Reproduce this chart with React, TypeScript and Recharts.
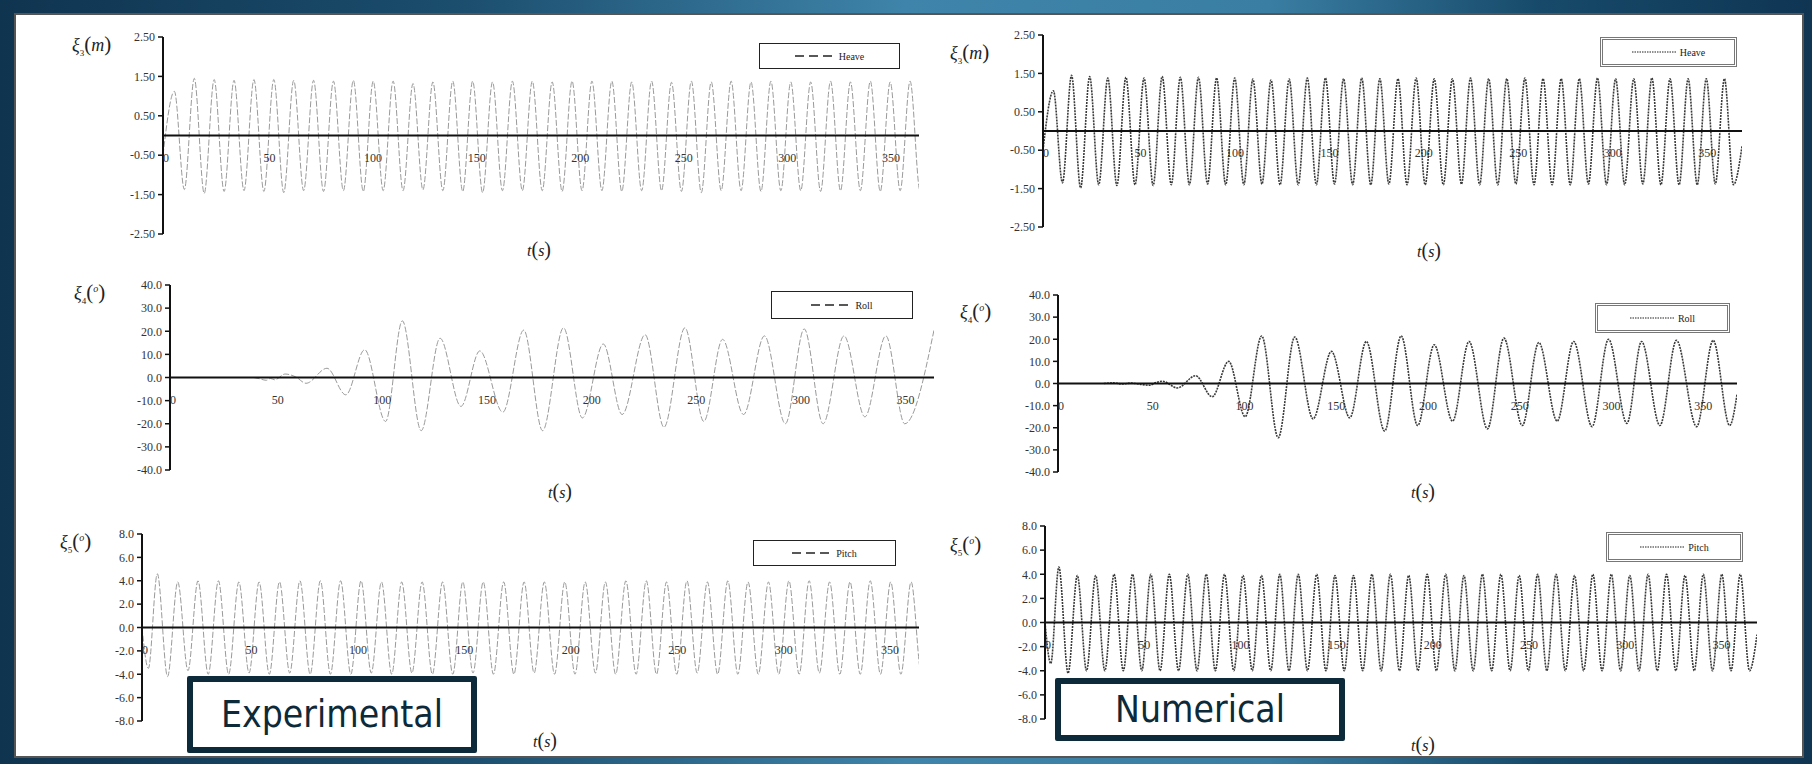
import { Line, LineChart, ReferenceLine, XAxis, YAxis } from "recharts";

// time of each turning point (s), shared by experimental and numerical runs
const heaveTime = [
  0, 5.5, 10.3, 15.1, 19.9, 24.7, 29.5, 34.3, 39.1, 43.9, 48.7, 53.5, 58.3, 63.1, 67.9, 72.7, 77.5,
  82.3, 87.1, 91.9, 96.7, 101.5, 106.3, 111.1, 115.9, 120.7, 125.5, 130.3, 135.1, 139.9, 144.7,
  149.5, 154.3, 159.1, 163.9, 168.7, 173.5, 178.3, 183.1, 187.9, 192.7, 197.5, 202.3, 207.1, 211.9,
  216.7, 221.5, 226.3, 231.1, 235.9, 240.7, 245.5, 250.3, 255.1, 259.9, 264.7, 269.5, 274.3, 279.1,
  283.9, 288.7, 293.5, 298.3, 303.1, 307.9, 312.7, 317.5, 322.3, 327.1, 331.9, 336.7, 341.5, 346.3,
  351.1, 355.9, 360.7, 365.5, 370,
];
const heaveExp = [
  -0.5,
  1.12, -1.37, 1.45, -1.47, 1.42, -1.42, 1.4, -1.4, 1.42, -1.42, 1.42, -1.45, 1.4, -1.4, 1.4, -1.42,
  1.38, -1.4, 1.4, -1.42, 1.38, -1.4, 1.38, -1.4, 1.32, -1.38, 1.36, -1.4, 1.38, -1.42, 1.38, -1.45,
  1.36, -1.4, 1.38, -1.4, 1.38, -1.4, 1.36, -1.42, 1.38, -1.4, 1.38, -1.4, 1.38, -1.42, 1.36, -1.4,
  1.38, -1.4, 1.35, -1.42, 1.38, -1.45, 1.36, -1.4, 1.38, -1.4, 1.36, -1.42, 1.38, -1.4, 1.36, -1.4,
  1.36, -1.42, 1.38, -1.4, 1.36, -1.4, 1.38, -1.42, 1.36, -1.4, 1.38, -1.4,
  -0.3,
];
const heaveNum = [
  -0.5,
  1.05, -1.35, 1.45, -1.48, 1.42, -1.4, 1.38, -1.42, 1.4, -1.4, 1.38, -1.42, 1.42, -1.4, 1.4, -1.4,
  1.4, -1.38, 1.38, -1.4, 1.38, -1.4, 1.35, -1.38, 1.33, -1.4, 1.35, -1.4, 1.38, -1.4, 1.38, -1.38,
  1.36, -1.4, 1.38, -1.4, 1.36, -1.38, 1.36, -1.4, 1.38, -1.4, 1.36, -1.4, 1.36, -1.38, 1.38, -1.4,
  1.36, -1.4, 1.36, -1.38, 1.38, -1.4, 1.36, -1.4, 1.36, -1.4, 1.36, -1.38, 1.38, -1.4, 1.36, -1.4,
  1.36, -1.38, 1.38, -1.4, 1.36, -1.4, 1.36, -1.4, 1.36, -1.38, 1.36, -1.4,
  -0.4,
];

const pitchTime = [
  0, 3.0, 7.2, 12.0, 16.8, 21.6, 26.3, 31.1, 35.9, 40.7, 45.5, 50.3, 55.0, 59.8, 64.6, 69.4, 74.2,
  79.0, 83.8, 88.5, 93.3, 98.1, 102.9, 107.7, 112.5, 117.3, 122.0, 126.8, 131.6, 136.4, 141.2, 146.0,
  150.7, 155.5, 160.3, 165.1, 169.9, 174.7, 179.5, 184.2, 189.0, 193.8, 198.6, 203.4, 208.2, 213.0,
  217.7, 222.5, 227.3, 232.1, 236.9, 241.7, 246.4, 251.2, 256.0, 260.8, 265.6, 270.4, 275.2, 279.9,
  284.7, 289.5, 294.3, 299.1, 303.9, 308.7, 313.4, 318.2, 323.0, 327.8, 332.6, 337.4, 342.1, 346.9,
  351.7, 356.5, 361.3, 366.1, 370,
];
const pitchExp = [
  0, -3.5,
  4.6, -4.2, 3.9, -3.7, 4.0, -4.0, 4.0, -4.0, 3.9, -3.9, 3.9, -4.0, 3.9, -3.9, 4.0, -4.0,
  4.0, -4.0, 4.0, -4.0, 4.0, -3.9, 3.9, -4.0, 3.9, -3.9, 3.9, -4.0, 3.9, -4.0, 3.9, -3.9,
  3.9, -4.0, 3.9, -4.0, 3.9, -3.9, 3.9, -4.0, 3.9, -4.0, 3.9, -3.9, 3.9, -4.0, 4.0, -4.0,
  4.0, -4.0, 3.9, -4.0, 4.0, -3.9, 3.9, -4.0, 4.0, -4.0, 3.9, -4.0, 3.9, -4.0, 4.0, -4.0,
  4.0, -3.9, 3.9, -4.0, 3.9, -4.0, 4.0, -4.0, 3.9, -4.0, 3.9, -3.9,
  0.5,
];
const pitchNum = [
  0, -3.4,
  4.6, -4.2, 3.9, -4.0, 3.9, -4.0, 4.0, -4.0, 4.0, -4.0, 4.0, -4.0, 4.0, -4.0, 4.0, -4.0,
  4.0, -4.0, 4.0, -4.0, 3.9, -4.0, 3.9, -4.0, 4.0, -4.0, 4.0, -4.0, 4.0, -4.0, 3.9, -4.0,
  3.9, -4.0, 4.0, -4.0, 4.0, -4.0, 3.9, -4.0, 4.0, -4.0, 4.0, -4.0, 3.9, -4.0, 4.0, -4.0,
  4.0, -4.0, 3.9, -4.0, 4.0, -4.0, 4.0, -4.0, 3.9, -4.0, 4.0, -4.0, 4.0, -4.0, 3.9, -4.0,
  4.0, -4.0, 4.0, -4.0, 3.9, -4.0, 4.0, -4.0, 4.0, -4.0, 4.0, -4.0,
  -1.0,
];

// roll has its own turning points: [t, deg]
const rollExp = [
  [40, 0], [43, -0.6], [46, -1.2], [48, -0.4], [50, -1.0], [55, 1.5], [60, 0.3], [65, -2.5],
  [75, 4.0], [84, -7.5], [93, 12.0], [103, -19.0], [111, 24.5], [120, -23.0], [129, 17.0],
  [139, -12.5], [148, 11.5], [159, -15.0], [169, 20.5], [178, -23.0], [188, 21.5], [197, -17.5],
  [207, 14.5], [216, -16.0], [227, 18.5], [236, -21.5], [246, 21.5], [255, -19.0], [264, 16.5],
  [274, -16.0], [284, 18.0], [294, -20.0], [303, 21.0], [312, -20.0], [322, 18.0], [332, -17.0],
  [342, 18.0], [351, -20.0], [365, 20.5],
];
const rollNum = [
  [25, 0], [30, 0.3], [35, -0.2], [40, 0.2], [45, -0.4], [50, -0.8], [53, 0.3], [57, 1.0],
  [65, -2.0], [75, 3.5], [84, -6.0], [93, 10.0], [102, -15.0], [111, 21.5], [120, -24.5],
  [129, 21.0], [139, -16.0], [149, 14.5], [159, -15.5], [168, 19.0], [178, -21.5], [187, 21.5],
  [196, -19.0], [205, 17.5], [215, -17.0], [224, 19.0], [234, -20.5], [243, 20.5], [253, -19.0],
  [262, 18.5], [272, -17.0], [281, 19.0], [291, -19.5], [300, 20.0], [310, -18.0], [318, 19.0],
  [328, -19.0], [337, 19.5], [348, -19.5], [357, 19.5], [366, -19.0], [370, -5.0],
];

const timeTicks = [0, 50, 100, 150, 200, 250, 300, 350];
const heaveTicks = [2.5, 1.5, 0.5, -0.5, -1.5, -2.5];
const rollTicks = [40, 30, 20, 10, 0, -10, -20, -30, -40];
const pitchTicks = [8, 6, 4, 2, 0, -2, -4, -6, -8];

const zip = (ts: number[], vs: number[]) => ts.map((t, i) => ({ t, v: vs[i] }));
const fromPairs = (ps: number[][]) => ps.map(([t, v]) => ({ t, v }));

const SERIF = '"Liberation Serif", "Times New Roman", serif';

type Box = { x0: number; x1: number; y0: number; y1: number };

function Panel({
  data, box, xMax, yMax, yTicks, digits, numerical,
}: {
  data: { t: number; v: number }[];
  box: Box;
  xMax: number;
  yMax: number;
  yTicks: number[];
  digits: number;
  numerical: boolean;
}) {
  const padL = 70, padT = 8, padR = 8, axisH = 40;
  const plotW = box.x1 - box.x0;
  const plotH = box.y1 - box.y0;
  const zeroY = padT + plotH / 2;
  const renderTick = (p: any) => (
    <text x={p.x + 3} y={zeroY + 26} textAnchor="middle" fontSize={12} fontFamily={SERIF} fill="#333">
      {p.payload.value}
    </text>
  );
  return (
    <div style={{ position: "absolute", left: box.x0 - padL, top: box.y0 - padT }}>
      <LineChart
        width={plotW + padL + padR}
        height={plotH + padT + axisH}
        data={data}
        margin={{ top: padT, right: padR, left: 0, bottom: 0 }}
      >
        <XAxis
          dataKey="t"
          type="number"
          domain={[0, xMax]}
          ticks={timeTicks}
          interval={0}
          allowDataOverflow
          axisLine={false}
          tickLine={false}
          height={axisH}
          tick={renderTick}
        />
        <YAxis
          type="number"
          domain={[-yMax, yMax]}
          ticks={yTicks}
          interval={0}
          allowDataOverflow
          width={padL}
          axisLine={{ stroke: "#111", strokeWidth: 2 }}
          tickLine={{ stroke: "#111", strokeWidth: 1.5 }}
          tickSize={5}
          tickMargin={3}
          tick={{ fontSize: 12, fill: "#333", fontFamily: SERIF }}
          tickFormatter={(v: number) => v.toFixed(digits)}
        />
        <Line
          dataKey="v"
          type="monotone"
          dot={false}
          isAnimationActive={false}
          stroke={numerical ? "#3a3a3a" : "#9a9a9a"}
          strokeWidth={numerical ? 1.6 : 1}
          strokeDasharray={numerical ? "2 1" : "6 2"}
        />
        <ReferenceLine y={0} stroke="#111" strokeWidth={2} />
      </LineChart>
    </div>
  );
}

function LegendBox({ x, y, w, h, name, numerical }: any) {
  return (
    <div
      style={{
        position: "absolute", left: x, top: y, width: w, height: h, boxSizing: "border-box",
        background: "#fff",
        border: numerical ? "3px double #777" : "1.5px solid #222",
        display: "flex", alignItems: "center", justifyContent: "center", gap: 4,
        fontFamily: SERIF, fontSize: 10, color: "#222",
      }}
    >
      <svg width={numerical ? 44 : 40} height={4}>
        <line x1={0} y1={2} x2={numerical ? 44 : 40} y2={2} stroke="#222"
          strokeWidth={numerical ? 1.2 : 1.6} strokeDasharray={numerical ? "1.5 1" : "9 5"} />
      </svg>
      <span>{name}</span>
    </div>
  );
}

function YLabel({ x, y, sub, unit }: { x: number; y: number; sub: string; unit: "m" | "deg" }) {
  return (
    <div style={{ position: "absolute", left: x, top: y, fontFamily: SERIF, fontSize: 18, color: "#222", whiteSpace: "nowrap", lineHeight: 1 }}>
      <i>ξ</i>
      <sub style={{ fontSize: 9 }}>{sub}</sub>
      <span style={{ fontSize: 21 }}>(</span>
      {unit === "m" ? <i>m</i> : <sup style={{ fontSize: 10, fontStyle: "italic" }}>o</sup>}
      <span style={{ fontSize: 21 }}>)</span>
    </div>
  );
}

function TLabel({ x, y }: { x: number; y: number }) {
  return (
    <div style={{ position: "absolute", left: x - 16, top: y - 11, fontFamily: SERIF, fontSize: 16, color: "#222", lineHeight: 1 }}>
      <i>t</i>
      <span style={{ fontSize: 20 }}>(</span>
      <i>s</i>
      <span style={{ fontSize: 20 }}>)</span>
    </div>
  );
}

function Tag({ x, y, w, h, text }: { x: number; y: number; w: number; h: number; text: string }) {
  return (
    <div
      style={{
        position: "absolute", left: x, top: y, width: w, height: h, boxSizing: "border-box",
        border: "6px solid #0c2a3a", borderRadius: 2, background: "#fff",
        display: "flex", alignItems: "center", justifyContent: "center",
        fontFamily: '"DejaVu Sans Condensed", "DejaVu Sans", sans-serif', fontStretch: "condensed",
        fontSize: 37, color: "#0c2a3a",
      }}
    >
      {text}
    </div>
  );
}

export default function App() {
  return (
    <div
      style={{
        position: "absolute", left: 0, top: 0, width: 1812, height: 764, overflow: "hidden",
        background: "linear-gradient(90deg, #0f3450 0%, #1b4d6d 25%, #3f84aa 50%, #3a7ea3 70%, #174a6a 85%, #0f3553 100%)",
      }}
    >
      <div style={{ position: "absolute", left: 14, top: 13, width: 1790, height: 745, boxSizing: "border-box", background: "#fff", border: "2px solid #555" }} />

      <Panel data={zip(heaveTime, heaveExp)} box={{ x0: 163, x1: 919, y0: 37, y1: 234 }} xMax={365} yMax={2.5} yTicks={heaveTicks} digits={2} numerical={false} />
      <Panel data={fromPairs(rollExp)} box={{ x0: 170, x1: 934, y0: 285, y1: 470 }} xMax={365} yMax={40} yTicks={rollTicks} digits={1} numerical={false} />
      <Panel data={zip(pitchTime, pitchExp)} box={{ x0: 142, x1: 919, y0: 534, y1: 721 }} xMax={365} yMax={8} yTicks={pitchTicks} digits={1} numerical={false} />
      <Panel data={zip(heaveTime, heaveNum)} box={{ x0: 1043, x1: 1742, y0: 35, y1: 227 }} xMax={370} yMax={2.5} yTicks={heaveTicks} digits={2} numerical />
      <Panel data={fromPairs(rollNum)} box={{ x0: 1058, x1: 1737, y0: 295, y1: 472 }} xMax={370} yMax={40} yTicks={rollTicks} digits={1} numerical />
      <Panel data={zip(pitchTime, pitchNum)} box={{ x0: 1045, x1: 1757, y0: 526, y1: 719 }} xMax={370} yMax={8} yTicks={pitchTicks} digits={1} numerical />

      <YLabel x={72} y={34} sub="3" unit="m" />
      <YLabel x={74} y={282} sub="4" unit="deg" />
      <YLabel x={60} y={531} sub="5" unit="deg" />
      <YLabel x={950} y={42} sub="3" unit="m" />
      <YLabel x={960} y={301} sub="4" unit="deg" />
      <YLabel x={950} y={534} sub="5" unit="deg" />

      <TLabel x={543} y={250} />
      <TLabel x={564} y={492} />
      <TLabel x={549} y={741} />
      <TLabel x={1433} y={251} />
      <TLabel x={1427} y={492} />
      <TLabel x={1427} y={745} />

      <LegendBox x={759} y={43} w={141} h={26} name="Heave" numerical={false} />
      <LegendBox x={771} y={291} w={142} h={28} name="Roll" numerical={false} />
      <LegendBox x={753} y={540} w={143} h={26} name="Pitch" numerical={false} />
      <LegendBox x={1600} y={37} w={137} h={30} name="Heave" numerical />
      <LegendBox x={1595} y={303} w={135} h={30} name="Roll" numerical />
      <LegendBox x={1606} y={532} w={137} h={30} name="Pitch" numerical />

      <Tag x={187} y={676} w={290} h={77} text="Experimental" />
      <Tag x={1055} y={678} w={290} h={63} text="Numerical" />
    </div>
  );
}
